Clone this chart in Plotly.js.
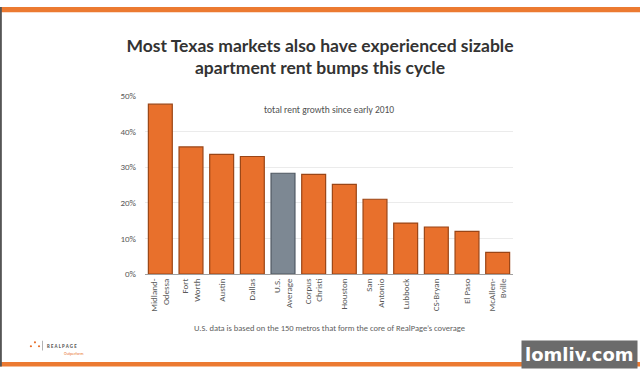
<!DOCTYPE html>
<html><head><meta charset="utf-8">
<script src="https://cdn.plot.ly/plotly-3.0.1.min.js"></script>
<style>html,body{margin:0;padding:0;background:#fff}#c{width:640px;height:369px}</style>
</head><body><div id="c"></div>
<script>
const markets = ["Midland-<br>Odessa","Fort<br>Worth","Austin","Dallas","U.S.<br>Average","Corpus<br>Christi","Houston","San<br>Antonio","Lubbock","CS-Bryan","El Paso","McAllen-<br>Bville"];
const rentGrowth = [47.7, 35.7, 33.6, 33.0, 28.3, 28.0, 25.2, 21.0, 14.3, 13.2, 12.0, 6.1];
const yTicks = [0, 10, 20, 30, 40, 50];
const yTickText = ["0%","10%","20%","30%","40%","50%"];
const orange = "#E8702C", gray = "#7D8893";
const barColors = markets.map(m => m.indexOf("U.S.") === 0 ? gray : orange);
const lineColors = markets.map(m => m.indexOf("U.S.") === 0 ? "#4F5862" : "#9A4516");

const data = [{
  type: "bar", x: markets, y: rentGrowth,
  marker: {color: barColors, line: {color: lineColors, width: 1.2}},
  hoverinfo: "skip"
}];
const layout = {
  width: 640, height: 369,
  margin: {l: 145, r: 127, t: 96, b: 95},
  paper_bgcolor: "#fff", plot_bgcolor: "#fff",
  bargap: 0.22, showlegend: false,
  font: {family: "Carlito, Lato, 'Open Sans', sans-serif", color: "#595959"},
  title: {text: "<b>Most Texas markets also have experienced sizable<br>apartment rent bumps this cycle</b>",
          x: 0.5, xanchor: "center", y: 0.86, yanchor: "middle",
          font: {size: 17.5, color: "#333333", family: "Lato, 'Open Sans', sans-serif"}},
  xaxis: {tickangle: -90, tickfont: {size: 9, color: "#595959"}, showline: true, linecolor: "#A0A0A0", linewidth: 1,
          ticks: "", showgrid: false, fixedrange: true},
  yaxis: {range: [0, 50], tickvals: yTicks, ticktext: yTickText, tickfont: {size: 9, color: "#595959"},
          showgrid: true, gridcolor: "#EBEBEB", gridwidth: 1, zeroline: false, showline: false, ticks: "",
          ticklabelstandoff: 8, fixedrange: true},
  annotations: [
    {text: "total rent growth since early 2010", xref: "paper", yref: "paper", x: 0.5, y: 0.965,
     showarrow: false, font: {size: 9.5, color: "#505050"}},
    {text: "U.S. data is based on the 150 metros that form the core of RealPage’s coverage", xref: "paper", yref: "paper",
     x: 0.5, y: -0.345, showarrow: false, font: {size: 8.5, color: "#606060"}},
    {text: "<b>R E A L P A G E</b>", xref: "paper", yref: "paper", x: -0.272, y: -0.404, xanchor: "left", yanchor: "middle", showarrow: false,
     font: {size: 5, color: "#555"}},
    {text: "Outperform", xref: "paper", yref: "paper", x: -0.225, y: -0.445, xanchor: "left", yanchor: "middle", showarrow: false,
     font: {size: 4, color: "#E8702C"}},
    {text: "<b>lomliv.com</b>", xref: "paper", yref: "paper", x: 1.34, y: -0.455, xanchor: "right", yanchor: "middle", showarrow: false,
     bgcolor: "#6B6B6B", borderpad: 3, font: {size: 18, color: "#fff", family: "'DejaVu Sans', sans-serif"}}
  ],
  shapes: [
    {type: "rect", xref: "paper", yref: "paper", x0: -0.4, x1: 1.4, y0: 1.47, y1: 1.5, fillcolor: "#EC7A31", line: {width: 0}},
    {type: "rect", xref: "paper", yref: "paper", x0: -0.4, x1: 1.4, y0: -0.52, y1: -0.495, fillcolor: "#EC7A31", line: {width: 0}},
    {type: "rect", xref: "paper", yref: "paper", x0: -0.395, x1: -0.389, y0: -0.52, y1: 1.5, fillcolor: "#555", line: {width: 0}},
    {type: "rect", xref: "paper", yref: "paper", x0: -0.2795, x1: -0.2775, y0: -0.43, y1: -0.375, fillcolor: "#999", line: {width: 0}},
    {type: "circle", xref: "paper", yref: "paper", x0: -0.302, x1: -0.296, y0: -0.39, y1: -0.378, fillcolor: "#E8702C", line: {width: 0}},
    {type: "circle", xref: "paper", yref: "paper", x0: -0.313, x1: -0.307, y0: -0.412, y1: -0.4, fillcolor: "#E8702C", line: {width: 0}},
    {type: "circle", xref: "paper", yref: "paper", x0: -0.291, x1: -0.285, y0: -0.412, y1: -0.4, fillcolor: "#E8702C", line: {width: 0}}
  ]
};
Plotly.newPlot("c", data, layout, {displayModeBar: false, staticPlot: true});
</script></body></html>
